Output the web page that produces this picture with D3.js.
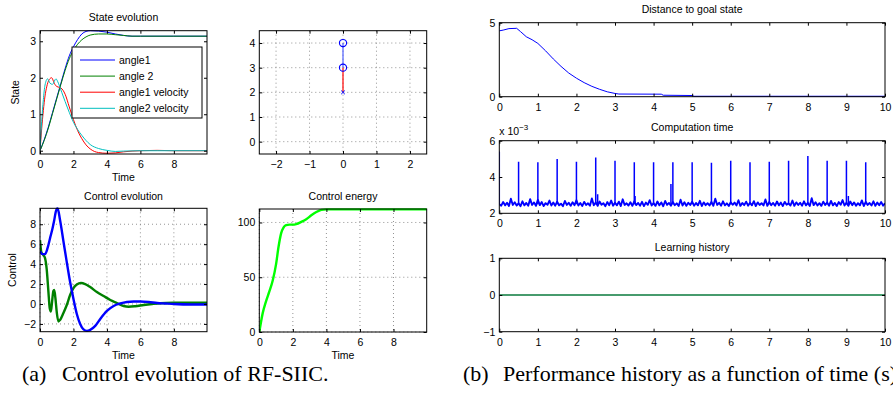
<!DOCTYPE html>
<html><head><meta charset="utf-8">
<script src="https://cdn.jsdelivr.net/npm/d3@7"></script>
<style>
body{margin:0;background:#fff}
text{font-family:"Liberation Sans",Arial,sans-serif;fill:#000}
</style>
</head><body>
<svg id="c" width="893" height="417"></svg>
<script>
// ---------- DATA ----------
const angle1T = [0,0.25,0.5,0.75,1,1.25,1.5,1.75,2,2.25,2.5,2.75,3,3.5,4,4.5,5,5.5,6,8,10];
const angle1  = [0,0.3,0.65,1.05,1.45,1.85,2.25,2.6,2.85,3.05,3.2,3.27,3.29,3.28,3.25,3.2,3.16,3.14,3.14,3.14,3.14];
const angle2T = [0,0.25,0.5,0.75,1,1.25,1.5,1.75,2,2.25,2.5,2.75,3,3.5,4,4.5,5,5.5,6,8,10];
const angle2  = [0,0.28,0.62,1.02,1.42,1.82,2.2,2.52,2.75,2.92,3.04,3.12,3.17,3.2,3.2,3.18,3.16,3.14,3.14,3.14,3.14];
const vel1T = [0,0.1,0.2,0.3,0.4,0.55,0.7,0.85,1.0,1.25,1.5,1.75,2,2.25,2.5,2.75,3,3.25,3.5,4,4.5,5,5.5,6,7,8,10];
const vel1  = [0,0.6,1.1,1.5,1.75,1.95,2.0,1.85,1.76,1.72,1.55,1.2,0.85,0.55,0.33,0.16,0.05,-0.02,-0.05,-0.07,-0.06,-0.03,-0.01,0,0.01,0,0];
const vel2T = [0,0.1,0.2,0.3,0.45,0.6,0.75,0.95,1.1,1.3,1.5,1.75,2,2.25,2.5,2.75,3,3.5,4,4.5,5,6,7,10];
const vel2  = [0,0.8,1.4,1.8,1.97,1.85,1.82,1.97,1.85,1.6,1.35,1.05,0.78,0.58,0.42,0.28,0.17,0.06,0.01,-0.02,-0.01,0,0,0];
const stateNames = ["angle1","angle 2","angle1 velocity","angle2 velocity"];

const pendX = [0,0,0];
const pendY = [4,3,2];

const ctrl1T = [0,0.15,0.3,0.45,0.6,0.75,0.85,0.95,1.05,1.2,1.4,1.6,1.8,2.0,2.2,2.4,2.6,2.8,3.0,3.3,3.6,4.0,4.4,4.8,5.2,5.6,6.0,6.5,7,7.5,8,9,10];
const ctrl1  = [5.3,5.0,5.0,5.6,6.6,7.6,8.4,9.3,9.6,8.4,6.3,4.2,2.2,0.5,-1.0,-2.0,-2.55,-2.7,-2.6,-2.2,-1.5,-0.7,-0.2,0.05,0.2,0.25,0.25,0.2,0.1,0.05,0,-0.05,-0.05];
const ctrl2T = [0,0.08,0.2,0.3,0.4,0.5,0.58,0.65,0.72,0.8,0.85,0.92,1.0,1.1,1.2,1.4,1.6,1.8,2.0,2.2,2.45,2.7,3.0,3.4,3.8,4.2,4.6,5.0,5.3,5.7,6.2,6.7,7.2,8,9,10];
const ctrl2  = [6.4,5.2,4.9,4.6,3.5,1.3,-0.4,-0.75,0.2,1.3,1.4,0.6,-0.8,-1.75,-1.6,-0.9,-0.1,0.9,1.6,1.95,2.1,2.0,1.7,1.2,0.8,0.4,0.1,-0.2,-0.27,-0.22,-0.1,0,0.08,0.12,0.13,0.13];

const energyT = [0,0.2,0.4,0.6,0.8,1.0,1.15,1.3,1.45,1.6,1.8,2.0,2.2,2.5,2.8,3.1,3.4,3.7,4.0,10];
const energy  = [0,17,28,37,47,62,78,90,95.5,97.5,98,98,98.5,100.5,103,106.5,109.5,111.5,112,112];

const distT = [0,0.1,0.25,0.45,0.55,0.7,0.85,1.0,1.2,1.4,1.6,1.8,2.0,2.2,2.4,2.6,2.8,3.0,3.1,4.2,4.25,5.0,5.05,10];
const dist  = [4.45,4.5,4.6,4.62,4.4,4.05,3.85,3.6,3.1,2.55,2.05,1.6,1.25,0.95,0.7,0.5,0.33,0.22,0.18,0.17,0.1,0.08,0.03,0.03];

const compBase = [
2.50,2.42,2.62,2.44,2.58,2.40,2.80,2.46,2.61,2.43,
2.55,2.39,2.66,2.44,2.57,2.42,2.78,2.46,2.60,2.41,
2.74,2.45,2.62,2.40,2.56,2.47,2.70,2.43,2.59,2.42,
2.64,2.44,2.53,2.39,2.68,2.46,2.58,2.41,2.61,2.45,
2.72,2.43,2.57,2.40,2.63,2.46,2.55,2.42,2.82,2.44,
2.60,2.41,2.65,2.47,2.56,2.39,2.62,2.45,2.70,2.42,
2.58,2.44,2.64,2.40,2.77,2.46,2.55,2.43,2.61,2.41,
2.66,2.45,2.57,2.42,2.63,2.40,2.59,2.47,2.72,2.43,
2.56,2.41,2.65,2.44,2.60,2.39,2.68,2.46,2.57,2.42,
2.62,2.45,2.55,2.40,2.75,2.43,2.61,2.41,2.58,2.46,
2.64,2.42,2.57,2.44,2.69,2.40,2.60,2.45,2.56,2.43,
2.63,2.41,2.80,2.46,2.58,2.42,2.66,2.44,2.55,2.40,
2.61,2.47,2.59,2.43,2.72,2.41,2.57,2.45,2.64,2.42,
2.58,2.44,2.67,2.40,2.60,2.46,2.56,2.43,2.76,2.41,
2.62,2.45,2.57,2.42,2.65,2.44,2.59,2.40,2.63,2.47,
2.55,2.43,2.70,2.41,2.60,2.46,2.58,2.42,2.66,2.44,
2.57,2.40,2.83,2.45,2.61,2.43,2.56,2.41,2.64,2.46,
2.59,2.42,2.68,2.44,2.57,2.40,2.62,2.47,2.73,2.43,
2.58,2.41,2.65,2.45,2.60,2.42,2.56,2.44,2.71,2.40,
2.63,2.46,2.57,2.43,2.66,2.41,2.59,2.45,2.62,2.42,
2.55];
const compBaseStep = 0.05;
const spikeT = [0,0.5,1,1.5,2,2.5,3,3.5,4,4.45,4.5,5,5.5,6,6.5,7,7.5,8,8.5,9,9.5,2.55,3.52,9.05];
const spikeV = [5.4,4.84,4.81,4.99,4.84,5.08,4.9,4.81,4.81,3.61,4.81,4.81,4.78,4.9,4.81,4.84,4.9,5.16,4.9,4.9,4.81,3.05,2.95,2.95];

const learnT = [0,10];
const learn  = [0,0];

const leftTimeTicks = [0,2,4,6,8];
const rightTimeTicks = [0,1,2,3,4,5,6,7,8,9,10];

// ---------- DRAWING ----------
const svg = d3.select("#c");
const FS = 10.5;
const fmt = d => d < 0 ? "\u2212" + (-d) : String(d);

function panel(o){
  const g = svg.append("g");
  const x = d3.scaleLinear().domain(o.xd).range([o.x0, o.x1]);
  const y = d3.scaleLinear().domain(o.yd).range([o.y1, o.y0]);
  g.append("rect").attr("x",o.x0).attr("y",o.y0).attr("width",o.x1-o.x0).attr("height",o.y1-o.y0).attr("fill","#fff");
  if(o.grid){
    g.selectAll(".gx").data(o.xt).join("line")
      .attr("x1",d=>x(d)).attr("x2",d=>x(d)).attr("y1",o.y0).attr("y2",o.y1)
      .attr("stroke","#777").attr("stroke-width",0.8).attr("stroke-dasharray","1,3");
    g.selectAll(".gy").data(o.yt).join("line")
      .attr("y1",d=>y(d)).attr("y2",d=>y(d)).attr("x1",o.x0).attr("x2",o.x1)
      .attr("stroke","#777").attr("stroke-width",0.8).attr("stroke-dasharray","1,3");
  }
  const plot = g.append("g");
  const deco = g.append("g");
  const ax = (axis, tr, labels) => {
    const a = deco.append("g").attr("transform",tr).call(axis);
    a.select(".domain").remove();
    a.selectAll("line").attr("stroke","#000");
    a.selectAll("text").attr("font-size",FS).attr("font-family","Liberation Sans, Arial, sans-serif");
    if(!labels) a.selectAll("text").remove();
    return a;
  };
  ax(d3.axisBottom(x).tickValues(o.xt).tickSize(-3).tickPadding(6.5).tickFormat(fmt), `translate(0,${o.y1})`, true);
  ax(d3.axisTop(x).tickValues(o.xt).tickSize(-3), `translate(0,${o.y0})`, false);
  ax(d3.axisLeft(y).tickValues(o.yt).tickSize(-3).tickPadding(4).tickFormat(fmt), `translate(${o.x0},0)`, true);
  ax(d3.axisRight(y).tickValues(o.yt).tickSize(-3), `translate(${o.x1},0)`, false);
  g.append("rect").attr("x",o.x0).attr("y",o.y0).attr("width",o.x1-o.x0).attr("height",o.y1-o.y0)
    .attr("fill","none").attr("stroke","#000").attr("stroke-width",1);
  if(o.title) g.append("text").attr("x",(o.x0+o.x1)/2).attr("y",o.ty).attr("text-anchor","middle").attr("font-size",FS).text(o.title);
  if(o.xlabel) g.append("text").attr("x",(o.x0+o.x1)/2).attr("y",o.xly).attr("text-anchor","middle").attr("font-size",FS).text(o.xlabel);
  if(o.ylabel) g.append("text").attr("transform",`translate(${o.ylx},${(o.y0+o.y1)/2}) rotate(-90)`).attr("text-anchor","middle").attr("font-size",FS).text(o.ylabel);
  const clipId = "cl" + Math.round(o.x0) + "_" + Math.round(o.y0);
  svg.append("clipPath").attr("id",clipId).append("rect").attr("x",o.x0).attr("y",o.y0-1).attr("width",o.x1-o.x0).attr("height",o.y1-o.y0+2);
  plot.attr("clip-path",`url(#${clipId})`);
  return {x, y, plot, g};
}

function series(p, T, V, color, w, curve){
  const pts = T.map((t,i)=>[t,V[i]]);
  p.plot.append("path").datum(pts)
    .attr("d", d3.line().x(d=>p.x(d[0])).y(d=>p.y(d[1])).curve(curve || d3.curveMonotoneX))
    .attr("fill","none").attr("stroke",color).attr("stroke-width",w).attr("stroke-linejoin","round");
}

// P1: State evolution
const p1 = panel({x0:40,x1:207,y0:30.7,y1:154,xd:[0,9.98],yd:[-0.09,3.29],xt:leftTimeTicks,yt:[0,1,2,3],
  title:"State evolution",ty:21,xlabel:"Time",xly:181,ylabel:"State",ylx:19});
const stateColors = ["#0000ff","#008000","#ff0000","#00bfbf"];
series(p1, angle1T, angle1, stateColors[0], 1);
series(p1, angle2T, angle2, stateColors[1], 1);
series(p1, vel1T, vel1, stateColors[2], 1);
series(p1, vel2T, vel2, stateColors[3], 1);
// legend
const lg = p1.g.append("g");
lg.append("rect").attr("x",72).attr("y",47).attr("width",130).attr("height",71).attr("fill","#fff").attr("stroke","#000").attr("stroke-width",1);
stateNames.forEach((n,i)=>{
  const yy = 60 + i*16.1;
  lg.append("line").attr("x1",80).attr("x2",115).attr("y1",yy).attr("y2",yy).attr("stroke",stateColors[i]).attr("stroke-width",1);
  lg.append("text").attr("x",119).attr("y",yy+3.7).attr("font-size",FS).text(n);
});

// P2: pendulum
const p2 = panel({x0:259.3,x1:426.7,y0:30.7,y1:154,xd:[-2.5,2.5],yd:[-0.5,4.5],xt:[-2,-1,0,1,2],yt:[0,1,2,3,4],grid:true});
p2.plot.append("line").attr("x1",p2.x(pendX[0])).attr("x2",p2.x(pendX[1])).attr("y1",p2.y(pendY[0])).attr("y2",p2.y(pendY[1])).attr("stroke","#5060ff").attr("stroke-width",1.2);
p2.plot.append("line").attr("x1",p2.x(pendX[1])).attr("x2",p2.x(pendX[2])).attr("y1",p2.y(pendY[1])).attr("y2",p2.y(pendY[2])).attr("stroke","#ff0000").attr("stroke-width",1.2);
[0,1].forEach(i=>{
  p2.plot.append("circle").attr("cx",p2.x(pendX[i])).attr("cy",p2.y(pendY[i])).attr("r",3.6).attr("fill","none").attr("stroke","#0000ff").attr("stroke-width",1.1);
});
{
  const cx = p2.x(pendX[2]), cy = p2.y(pendY[2]), s = 1.8;
  p2.plot.append("path").attr("d",`M${cx-s},${cy-s}L${cx+s},${cy+s}M${cx-s},${cy+s}L${cx+s},${cy-s}`).attr("stroke","#0000ff").attr("stroke-width",1);
}

// P3: Control evolution
const p3 = panel({x0:40,x1:207,y0:208.3,y1:331.7,xd:[0,9.98],yd:[-2.78,9.6],xt:leftTimeTicks,yt:[-2,0,2,4,6,8],grid:true,
  title:"Control evolution",ty:199.5,xlabel:"Time",xly:359,ylabel:"Control",ylx:16});
series(p3, ctrl2T, ctrl2, "#008000", 2.4);
series(p3, ctrl1T, ctrl1, "#0000ff", 2.4);

// P4: Control energy
const p4 = panel({x0:259.3,x1:426.7,y0:209,y1:332,xd:[0,9.98],yd:[0,112.3],xt:leftTimeTicks,yt:[0,50,100],grid:true,
  title:"Control energy",ty:199.5,xlabel:"Time",xly:359});
series(p4, energyT, energy, "#00ff00", 2.4);

// P5: Distance to goal state
const p5 = panel({x0:499.3,x1:885,y0:22.7,y1:96.7,xd:[0,10],yd:[0,5],xt:rightTimeTicks,yt:[0,5],
  title:"Distance to goal state",ty:13});
series(p5, distT, dist, "#0000ff", 1, d3.curveLinear);

// P6: Computation time (values in units of 1e-3)
const p6 = panel({x0:499.3,x1:885,y0:140.7,y1:213.3,xd:[0,10],yd:[2,6],xt:rightTimeTicks,yt:[2,4,6],
  title:"Computation time",ty:130.5});
series(p6, compBase.map((v,i)=>i*compBaseStep), compBase, "#0000ff", 1.9, d3.curveLinear);
spikeT.forEach((t,i)=>{
  p6.plot.append("line").attr("x1",p6.x(t)).attr("x2",p6.x(t)).attr("y1",p6.y(2.5)).attr("y2",p6.y(spikeV[i]))
    .attr("stroke","#0000ff").attr("stroke-width",1.5);
});
{
  const e = svg.append("text").attr("x",499.3).attr("y",135).attr("font-size",FS);
  e.append("tspan").text("x 10");
  e.append("tspan").attr("dy",-5).attr("font-size",8).text("\u22123");
}

// P7: Learning history
const p7 = panel({x0:499.3,x1:885,y0:258.3,y1:331.7,xd:[0,10],yd:[-1,1],xt:rightTimeTicks,yt:[-1,0,1],
  title:"Learning history",ty:250.5});
series(p7, learnT, learn, "#0a7a3c", 1.4, d3.curveLinear);

// Captions
const cap = (x,y,t) => svg.append("text").attr("x",x).attr("y",y).attr("font-size",22)
  .style("font-family","'Liberation Serif','Times New Roman',serif").text(t);
cap(22,381,"(a)");
cap(62,381,"Control evolution of RF-SIIC.");
cap(463,381,"(b)");
cap(503,381,"Performance history as a function of time (s)");
</script>
</body></html>
